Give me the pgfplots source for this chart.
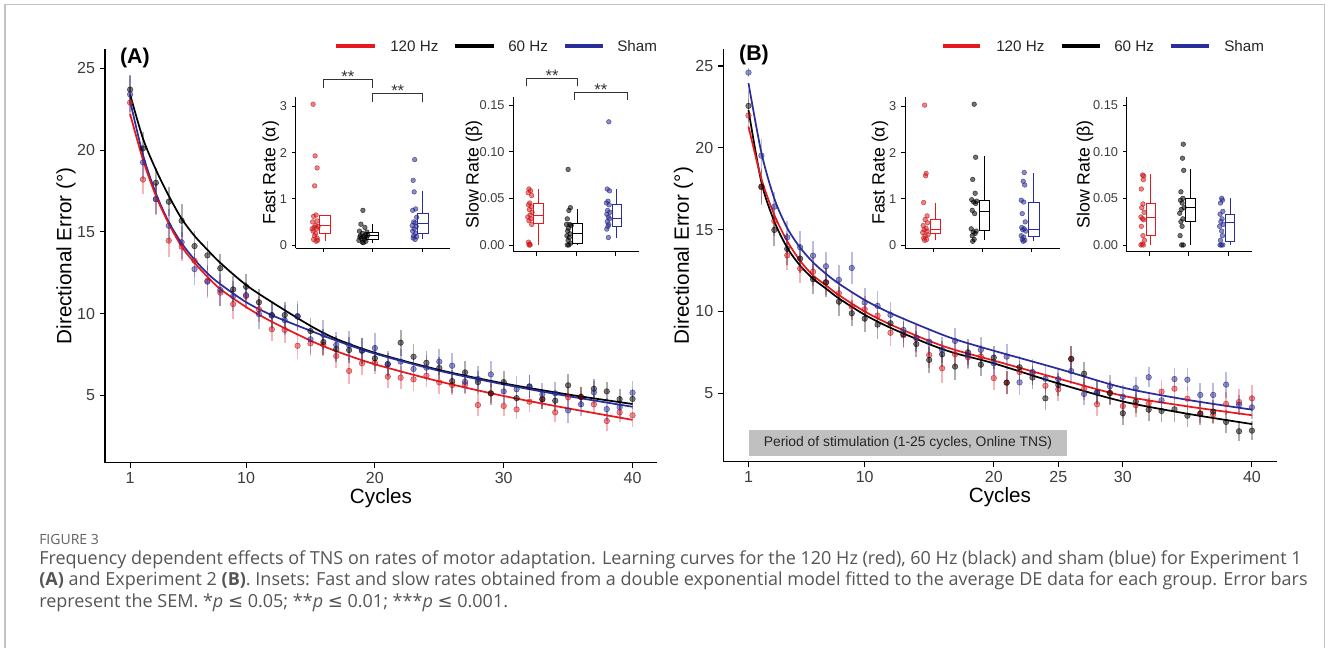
\documentclass[border=0pt]{standalone}
\usepackage{fontspec}
\setmainfont{Liberation Sans}
\newfontfamily\capfont{Open Sans}
\newfontfamily\symfont{DejaVu Sans}
\usepackage{pgfplots}
\usepackage{pgfplotstable}
\pgfplotsset{compat=1.18}
\usepgfplotslibrary{statistics}

\definecolor{mred}{RGB}{230,25,30}
\definecolor{mblue}{RGB}{42,46,155}
\definecolor{tickgray}{RGB}{60,60,60}
\definecolor{framegray}{RGB}{195,195,195}
\definecolor{capgray}{RGB}{85,85,85}
\definecolor{stimgray}{RGB}{192,192,192}

% cycle, 120 Hz (r), 60 Hz (k), sham (b), each with SEM
\pgfplotstableread{
c  r     re   k     ke   b     be
1  22.90 0.9  23.70 0.9  23.40 1.1
2  18.20 0.9  20.10 1.0  19.25 1.0
3  17.00 1.0  18.00 0.9  17.00 0.9
4  14.46 1.0  16.84 0.9  15.37 1.0
5  14.09 0.9  15.68 1.0  14.36 1.0
6  13.23 1.0  14.13 0.9  12.72 1.0
7  12.00 0.9  13.56 0.9  11.95 1.0
8  11.28 0.8  12.77 0.9  11.44 1.0
9  10.58 0.9  11.48 0.8  11.07 0.9
10 11.07 0.8  11.64 0.8  11.13 0.8
11 10.26 0.8  10.69 0.8  9.97  0.9
12 9.04  0.7  9.91  0.8  9.87  0.9
13 9.00  0.8  9.91  0.8  9.60  0.9
14 8.03  0.8  9.81  0.8  9.85  0.9
15 8.18  0.8  8.93  0.8  8.43  0.9
16 8.10  0.7  8.26  0.8  8.69  0.9
17 7.40  0.7  7.83  0.8  8.08  0.8
18 6.49  0.8  7.77  0.8  8.05  0.9
19 6.96  0.7  7.73  0.8  7.73  0.8
20 6.99  0.7  7.26  0.8  7.89  0.9
21 6.14  0.7  6.90  0.7  6.91  0.8
22 6.08  0.7  8.22  0.8  7.06  0.8
23 5.98  0.7  7.36  0.8  6.61  0.8
24 6.20  0.7  6.99  0.7  6.69  0.8
25 5.79  0.7  6.67  0.7  7.06  0.8
26 5.63  0.6  5.87  0.7  6.81  0.8
27 5.67  0.6  6.40  0.7  5.83  0.7
28 4.41  0.7  5.81  0.7  6.00  0.8
29 5.12  0.6  5.12  0.7  6.28  0.8
30 4.35  0.6  5.81  0.7  5.24  0.7
31 4.14  0.6  4.83  0.6  5.37  0.8
32 4.61  0.6  5.53  0.7  5.55  0.7
33 4.76  0.6  4.76  0.6  5.06  0.7
34 3.96  0.6  4.67  0.6  5.12  0.7
35 4.88  0.6  5.61  0.7  4.08  0.8
36 4.90  0.6  4.90  0.6  4.45  0.7
37 4.45  0.6  5.40  0.6  5.18  0.7
38 3.43  0.6  5.24  0.6  4.16  0.7
39 3.96  0.6  4.76  0.6  4.27  0.7
40 3.78  0.7  4.78  0.6  5.16  0.7
}\expA

\pgfplotstableread{
c  r     re   k     ke   b     be
1  21.97 1.0  22.56 1.0  24.60 0.3
2  17.60 1.0  17.63 1.1  19.52 1.0
3  15.53 0.9  14.98 1.0  16.40 0.9
4  13.43 0.9  13.82 1.0  14.53 1.0
5  12.62 0.9  13.23 0.9  13.92 1.0
6  12.43 0.9  11.97 0.9  13.41 0.9
7  11.78 0.8  11.78 0.9  12.76 0.9
8  11.11 0.8  10.60 0.9  11.93 0.9
9  10.30 0.8  9.89  0.8  12.66 1.0
10 10.13 0.8  9.56  0.8  10.54 0.9
11 9.75  0.8  9.20  0.9  10.34 0.9
12 8.70  0.8  9.28  0.8  9.79  0.8
13 8.55  0.8  8.60  0.8  8.87  0.8
14 8.35  0.8  8.01  0.8  8.40  0.8
15 7.34  0.8  7.04  0.8  8.15  0.8
16 6.53  0.9  7.38  0.8  7.65  0.8
17 7.38  0.8  6.63  0.8  8.20  0.8
18 7.20  0.7  7.50  0.8  7.32  0.8
19 7.25  0.7  6.75  0.7  7.65  0.8
20 5.93  0.7  7.18  0.7  6.83  0.7
21 5.65  0.7  5.65  0.7  7.24  0.8
22 6.30  0.7  6.59  0.7  5.67  0.8
23 6.22  0.7  5.96  0.7  6.30  0.8
24 5.46  0.7  4.69  0.7  5.89  0.8
25 5.24  0.7  5.51  0.7  5.86  0.7
26 7.10  0.8  7.10  0.8  6.36  0.8
27 5.28  0.7  6.20  0.7  4.96  0.7
28 4.33  0.7  5.04  0.7  5.04  0.7
29 5.04  0.7  5.00  0.7  5.43  0.7
30 4.22  0.7  3.78  0.7  4.79  0.7
31 4.27  0.7  4.49  0.7  5.32  0.7
32 4.37  0.6  4.00  0.7  5.98  0.6
33 5.10  0.7  3.92  0.7  4.57  0.7
34 5.28  0.7  4.02  0.8  5.87  0.7
35 4.67  0.7  3.63  0.7  5.83  0.7
36 3.78  0.6  3.74  0.7  4.90  0.7
37 3.70  0.6  3.88  0.7  4.90  0.7
38 4.35  0.7  3.25  0.7  5.53  0.8
39 4.47  0.8  2.68  0.6  4.30  0.6
40 4.69  0.8  2.72  0.6  4.14  0.7
}\expB

\tikzset{stars/.style={font=\fontsize{12.5}{13}\selectfont, anchor=base, text=black!80}}

\pgfplotsset{
  mainax/.style={
    scale only axis, anchor=south west,
    axis lines*=left, axis line style={line width=0.9pt,-},
    tick align=outside, major tick length=4pt,
    tick style={black, line width=0.8pt},
    ticklabel style={font=\fontsize{12}{14}\selectfont, text=tickgray},
    /pgf/number format/assume math mode=true,
    label style={font=\fontsize{15.5}{18}\selectfont},
    xlabel style={at={(axis description cs:0.5,-0.085)}, anchor=center},
    ytick={5,10,15,20,25},
    clip=false,
  },
  inset/.style={
    scale only axis, anchor=south west,
    axis lines*=left, axis line style={line width=0.7pt,-},
    tick align=outside, major tick length=3pt,
    tick style={black, line width=0.6pt},
    ticklabel style={font=\fontsize{9.6}{11}\selectfont, text=tickgray},
    /pgf/number format/assume math mode=true,
    label style={font=\fontsize{13.3}{15}\selectfont},
    xtick={1,2,3}, xticklabels={},
    boxplot/draw direction=y,
    clip=false,
  },
  fast/.style={height=113.25pt, ymin=-0.072, ymax=3.2, ytick={0,1,2,3}, ylabel={Fast Rate (α)}},
  slow/.style={height=115.8pt, ymin=-0.0072, ymax=0.1583, ytick={0,0.05,0.1,0.15},
    yticklabels={0.00,0.05,0.10,0.15}, ylabel={Slow Rate (β)}},
  pts/.style={only marks, mark=*, mark size=2.1pt,
    mark options={draw=#1!75!black, fill=#1, fill opacity=0.5, draw opacity=0.65},
    /pgfplots/error bars/y dir=both, /pgfplots/error bars/y explicit,
    /pgfplots/error bars/error mark=none,
    /pgfplots/error bars/error bar style={draw=#1, draw opacity=0.32, line width=1.3pt}},
  ipts/.style={only marks, mark=*, mark size=1.75pt,
    mark options={draw=#1!75!black, fill=#1, fill opacity=0.55, draw opacity=0.65}},
  fit/.style={#1, line width=1.3pt, smooth},
  bx/.style={draw=#1, line width=0.6pt, boxplot/draw direction=y},
}

\begin{document}
\begin{tikzpicture}
\useasboundingbox (0,0) rectangle (996pt,486pt);
\draw[framegray, line width=1.1pt] (3.75pt,-6pt) rectangle (993.5pt,482.5pt);

% ---------------- panel A ----------------
\begin{axis}[mainax, at={(78.75pt,138.975pt)}, width=414pt, height=310.275pt,
  xmin=-0.95, xmax=41.9, ymin=0.88, ymax=26.18, xtick={1,10,20,30,40},
  xlabel={Cycles}, ylabel={Directional Error (°)},
  ylabel style={at={(axis description cs:-0.0707,0.5)}, anchor=center}]
\addplot[pts=mred] table[x=c, y=r, y error=re] {\expA};
\addplot[pts=black] table[x=c, y=k, y error=ke] {\expA};
\addplot[pts=mblue] table[x=c, y=b, y error=be] {\expA};
\addplot[fit=black] coordinates {(1,23.4) (2,20.7) (3,18.8) (4,17.2) (5,15.8) (6,14.75) (7,13.9) (8,13.1) (10,11.75) (12,10.7) (15,9.25) (17,8.45) (20,7.6) (25,6.55) (30,5.73) (35,5.05) (40,4.47)};
\addplot[fit=mblue] coordinates {(1,23.0) (2,19.7) (3,17.35) (4,15.6) (5,14.3) (6,13.3) (7,12.46) (8,11.8) (10,10.7) (12,9.9) (15,8.95) (17,8.35) (20,7.55) (25,6.5) (30,5.67) (35,4.95) (40,4.3)};
\addplot[fit=mred] coordinates {(1,22.2) (2,19.4) (3,17.2) (4,15.5) (5,14.1) (6,13.1) (7,12.25) (8,11.5) (10,10.4) (12,9.5) (15,8.35) (17,7.7) (20,6.9) (25,5.85) (30,4.96) (35,4.2) (40,3.5)};
\node[font=\bfseries\fontsize{16}{18}\selectfont] at (axis description cs:0.054,0.978) {(A)};
\end{axis}

% fast rate inset A
\begin{axis}[inset, fast, at={(221.775pt,299.775pt)}, width=115.725pt, xmin=0.45, xmax=3.55,
  ylabel style={at={(axis description cs:-0.162,0.5)}, anchor=center}]
\addplot[ipts=mred] coordinates {(0.80,3.05) (0.84,1.93) (0.88,1.67) (0.83,1.28) (0.86,0.65) (0.81,0.62) (0.88,0.52) (0.79,0.50) (0.85,0.42) (0.90,0.40) (0.82,0.38) (0.87,0.35) (0.80,0.30) (0.85,0.25) (0.83,0.20) (0.88,0.15) (0.81,0.12) (0.86,0.08) (0.89,0.10) (0.78,0.35)};
\addplot[ipts=black] coordinates {(1.80,0.75) (1.76,0.45) (1.84,0.38) (1.73,0.30) (1.88,0.28) (1.79,0.25) (1.85,0.22) (1.75,0.20) (1.82,0.18) (1.87,0.16) (1.77,0.14) (1.83,0.12) (1.72,0.10) (1.86,0.08) (1.79,0.06) (1.81,0.05) (1.74,0.17) (1.90,0.21)};
\addplot[ipts=mblue] coordinates {(2.84,1.85) (2.81,1.40) (2.83,1.15) (2.86,0.78) (2.80,0.75) (2.88,0.60) (2.82,0.50) (2.85,0.48) (2.79,0.42) (2.87,0.40) (2.83,0.35) (2.80,0.30) (2.86,0.25) (2.82,0.20) (2.88,0.18) (2.81,0.15) (2.85,0.12)};
\addplot[bx=mred, boxplot prepared={draw position=1.04, box extend=0.22, whisker extend=0,
  lower whisker=0.09, lower quartile=0.26, median=0.42, upper quartile=0.64, upper whisker=0.66}] coordinates {};
\addplot[bx=black, boxplot prepared={draw position=2.0, box extend=0.24, whisker extend=0,
  lower whisker=0.05, lower quartile=0.12, median=0.20, upper quartile=0.28, upper whisker=0.46}] coordinates {};
\addplot[bx=mblue, boxplot prepared={draw position=3.0, box extend=0.22, whisker extend=0,
  lower whisker=0.13, lower quartile=0.24, median=0.46, upper quartile=0.68, upper whisker=1.16}] coordinates {};
\draw[line width=0.6pt, black!80] (axis cs:1,3.41) -- (axis cs:1,3.59) -- (axis cs:2,3.59) -- (axis cs:2,3.41);
\draw[line width=0.6pt, black!80] (axis cs:2,3.10) -- (axis cs:2,3.28) -- (axis cs:3,3.28) -- (axis cs:3,3.10);
\node[stars] at (axis cs:1.5,3.53) {**};
\node[stars] at (axis cs:2.5,3.22) {**};
\end{axis}

% slow rate inset A
\begin{axis}[inset, slow, at={(384.975pt,297.225pt)}, width=94.5pt, xmin=0.4, xmax=3.62,
  ylabel style={at={(axis description cs:-0.312,0.5)}, anchor=center}]
\addplot[ipts=mred] coordinates {(0.80,0.060) (0.84,0.058) (0.78,0.056) (0.87,0.053) (0.82,0.045) (0.79,0.043) (0.86,0.041) (0.81,0.038) (0.88,0.035) (0.83,0.032) (0.77,0.030) (0.85,0.028) (0.80,0.026) (0.87,0.022) (0.79,0.003) (0.82,0.001) (0.80,0.000) (0.83,0.000)};
\addplot[ipts=black] coordinates {(1.80,0.081) (1.86,0.040) (1.82,0.037) (1.78,0.028) (1.84,0.022) (1.76,0.022) (1.88,0.021) (1.81,0.018) (1.79,0.015) (1.85,0.012) (1.77,0.010) (1.83,0.008) (1.80,0.005) (1.87,0.002) (1.78,0.000) (1.82,0.000)};
\addplot[ipts=mblue] coordinates {(2.84,0.132) (2.80,0.060) (2.86,0.058) (2.82,0.047) (2.78,0.045) (2.85,0.043) (2.81,0.037) (2.87,0.035) (2.79,0.033) (2.83,0.030) (2.86,0.028) (2.80,0.025) (2.84,0.022) (2.82,0.020) (2.79,0.017) (2.83,0.008)};
\addplot[bx=mred, boxplot prepared={draw position=1.04, box extend=0.24, whisker extend=0,
  lower whisker=0.0, lower quartile=0.023, median=0.032, upper quartile=0.0446, upper whisker=0.060}] coordinates {};
\addplot[bx=black, boxplot prepared={draw position=2.04, box extend=0.24, whisker extend=0,
  lower whisker=0.0, lower quartile=0.002, median=0.0125, upper quartile=0.023, upper whisker=0.039}] coordinates {};
\addplot[bx=mblue, boxplot prepared={draw position=3.04, box extend=0.24, whisker extend=0,
  lower whisker=0.008, lower quartile=0.0196, median=0.0286, upper quartile=0.044, upper whisker=0.060}] coordinates {};
\draw[line width=0.6pt, black!80] (axis cs:0.73,0.1704) -- (axis cs:0.73,0.1787) -- (axis cs:2.04,0.1787) -- (axis cs:2.04,0.1704);
\draw[line width=0.6pt, black!80] (axis cs:1.96,0.1554) -- (axis cs:1.96,0.1632) -- (axis cs:3.31,0.1632) -- (axis cs:3.31,0.1554);
\node[stars] at (axis cs:1.39,0.1755) {**};
\node[stars] at (axis cs:2.64,0.1600) {**};
\end{axis}

% ---------------- panel B ----------------
\begin{axis}[mainax, at={(542.4pt,139.725pt)}, width=415.125pt, height=309.3pt,
  xmin=-0.96, xmax=41.92, ymin=0.82, ymax=26.02, xtick={1,10,20,25,30,40},
  xlabel={Cycles}, ylabel={Directional Error (°)},
  ylabel style={at={(axis description cs:-0.0717,0.5)}, anchor=center}]
\addplot[fill=stimgray, draw=none] coordinates {(1,1.17) (25.7,1.17) (25.7,2.76) (1,2.76)} -- cycle;
\node[font=\fontsize{10.4}{12}\selectfont, text=black!85] at (axis cs:13.35,1.965) {Period of stimulation (1-25 cycles, Online TNS)};
\addplot[pts=mred] table[x=c, y=r, y error=re] {\expB};
\addplot[pts=black] table[x=c, y=k, y error=ke] {\expB};
\addplot[pts=mblue] table[x=c, y=b, y error=be] {\expB};
\addplot[fit=black] coordinates {(1,22.3) (2,17.9) (3,15.5) (4,13.9) (5,12.8) (6,12.0) (7,11.4) (8,10.8) (10,9.8) (12,9.0) (15,8.0) (17,7.45) (20,6.83) (25,5.6) (30,4.5) (35,3.75) (40,3.12)};
\addplot[fit=mred] coordinates {(1,21.3) (2,18.1) (3,15.9) (4,14.3) (5,13.1) (6,12.2) (7,11.6) (8,11.0) (10,10.0) (12,9.2) (15,8.2) (17,7.65) (20,7.0) (25,5.9) (30,4.85) (35,4.2) (40,3.66)};
\addplot[fit=mblue] coordinates {(1,23.95) (2,19.7) (3,16.9) (4,15.1) (5,13.9) (6,13.0) (7,12.3) (8,11.7) (10,10.7) (12,9.9) (15,8.9) (17,8.3) (20,7.6) (25,6.5) (30,5.35) (35,4.6) (40,4.0)};
\node[font=\bfseries\fontsize{16}{18}\selectfont] at (axis description cs:0.0556,0.986) {(B)};
\end{axis}

% fast rate inset B
\begin{axis}[inset, fast, at={(678.75pt,299.775pt)}, width=116.25pt, xmin=0.42, xmax=3.58,
  ylabel style={at={(axis description cs:-0.161,0.5)}, anchor=center}]
\addplot[ipts=mred] coordinates {(0.82,3.03) (0.85,1.55) (0.84,1.50) (0.80,0.92) (0.87,0.63) (0.83,0.55) (0.88,0.48) (0.79,0.42) (0.85,0.36) (0.81,0.33) (0.87,0.30) (0.78,0.27) (0.89,0.22) (0.83,0.20) (0.80,0.15) (0.86,0.12) (0.82,0.10)};
\addplot[ipts=black] coordinates {(1.83,3.05) (1.86,1.90) (1.80,1.42) (1.85,1.12) (1.78,0.98) (1.88,0.95) (1.82,0.93) (1.86,0.90) (1.79,0.75) (1.84,0.68) (1.77,0.35) (1.87,0.30) (1.81,0.28) (1.85,0.25) (1.79,0.20) (1.83,0.12) (1.80,0.08)};
\addplot[ipts=mblue] coordinates {(2.85,1.57) (2.83,1.38) (2.86,1.30) (2.79,0.97) (2.84,0.93) (2.81,0.68) (2.87,0.50) (2.80,0.38) (2.85,0.35) (2.82,0.33) (2.88,0.30) (2.79,0.20) (2.84,0.17) (2.81,0.12) (2.86,0.10) (2.83,0.08)};
\addplot[bx=mred, boxplot prepared={draw position=1.04, box extend=0.22, whisker extend=0,
  lower whisker=0.11, lower quartile=0.24, median=0.33, upper quartile=0.56, upper whisker=0.92}] coordinates {};
\addplot[bx=black, boxplot prepared={draw position=2.04, box extend=0.22, whisker extend=0,
  lower whisker=0.10, lower quartile=0.31, median=0.72, upper quartile=0.96, upper whisker=1.92}] coordinates {};
\addplot[bx=mblue, boxplot prepared={draw position=3.04, box extend=0.22, whisker extend=0,
  lower whisker=0.09, lower quartile=0.18, median=0.34, upper quartile=0.93, upper whisker=1.57}] coordinates {};
\end{axis}

% slow rate inset B
\begin{axis}[inset, slow, at={(845.025pt,297.225pt)}, width=93.75pt, xmin=0.43, xmax=3.59,
  ylabel style={at={(axis description cs:-0.334,0.5)}, anchor=center}]
\addplot[ipts=mred] coordinates {(0.83,0.075) (0.86,0.074) (0.85,0.070) (0.80,0.060) (0.84,0.044) (0.81,0.040) (0.87,0.035) (0.79,0.030) (0.83,0.028) (0.86,0.027) (0.80,0.020) (0.84,0.010) (0.88,0.005) (0.82,0.001) (0.79,0.000) (0.85,0.000)};
\addplot[ipts=black] coordinates {(1.86,0.108) (1.84,0.093) (1.87,0.080) (1.80,0.057) (1.85,0.050) (1.79,0.048) (1.83,0.045) (1.88,0.040) (1.81,0.038) (1.77,0.034) (1.85,0.028) (1.80,0.025) (1.83,0.020) (1.78,0.010) (1.82,0.000) (1.86,0.000)};
\addplot[ipts=mblue] coordinates {(2.83,0.050) (2.85,0.048) (2.80,0.045) (2.86,0.036) (2.79,0.033) (2.84,0.028) (2.81,0.025) (2.87,0.022) (2.78,0.020) (2.83,0.015) (2.85,0.010) (2.80,0.005) (2.82,0.000) (2.86,0.000) (2.79,0.000)};
\addplot[bx=mred, boxplot prepared={draw position=1.04, box extend=0.24, whisker extend=0,
  lower whisker=0.0, lower quartile=0.0107, median=0.0293, upper quartile=0.0446, upper whisker=0.0757}] coordinates {};
\addplot[bx=black, boxplot prepared={draw position=2.04, box extend=0.24, whisker extend=0,
  lower whisker=0.0, lower quartile=0.0257, median=0.040, upper quartile=0.0496, upper whisker=0.081}] coordinates {};
\addplot[bx=mblue, boxplot prepared={draw position=3.04, box extend=0.24, whisker extend=0,
  lower whisker=0.0, lower quartile=0.0036, median=0.024, upper quartile=0.0332, upper whisker=0.050}] coordinates {};
\end{axis}

% legends
\begin{scope}[every node/.style={anchor=west, inner sep=0pt, font=\fontsize{11.4}{13}\selectfont, text=black!85}]
\draw[mred, line width=3pt] (252pt,451.5pt) -- (281.25pt,451.5pt);
\node at (292.5pt,451.5pt) {120 Hz};
\draw[black, line width=3pt] (341.25pt,451.5pt) -- (370.5pt,451.5pt);
\node at (381pt,451.5pt) {60 Hz};
\draw[mblue, line width=3pt] (423.75pt,451.5pt) -- (452.25pt,451.5pt);
\node at (462.75pt,451.5pt) {Sham};
\draw[mred, line width=3pt] (707.25pt,451.5pt) -- (735pt,451.5pt);
\node at (747pt,451.5pt) {120 Hz};
\draw[black, line width=3pt] (796.5pt,451.5pt) -- (825pt,451.5pt);
\node at (835.5pt,451.5pt) {60 Hz};
\draw[mblue, line width=3pt] (878.25pt,451.5pt) -- (906.75pt,451.5pt);
\node at (918pt,451.5pt) {Sham};
\end{scope}

% caption
\begin{scope}[every node/.style={anchor=base west, inner sep=0pt, text=capgray}]
\node[font=\capfont\fontsize{10.5}{12}\selectfont, text=black!62] at (29.25pt,77.25pt) {FIGURE 3};
\node[font=\capfont\fontsize{13.5}{15}\selectfont] at (29.25pt,62.25pt) {Frequency dependent effects of TNS on rates of motor adaptation. Learning curves for the 120 Hz (red), 60 Hz (black) and sham (blue) for Experiment 1};
\node[font=\capfont\fontsize{13.5}{15}\selectfont] at (29.25pt,46.5pt) {\textbf{(A)} and Experiment 2 \textbf{(B)}. Insets: Fast and slow rates obtained from a double exponential model fitted to the average DE data for each group. Error bars};
\node[font=\capfont\fontsize{13.5}{15}\selectfont] at (29.25pt,30.5pt) {represent the SEM. *\textit{p} {\symfont ≤} 0.05; **\textit{p} {\symfont ≤} 0.01; ***\textit{p} {\symfont ≤} 0.001.};
\end{scope}
\end{tikzpicture}
\end{document}
